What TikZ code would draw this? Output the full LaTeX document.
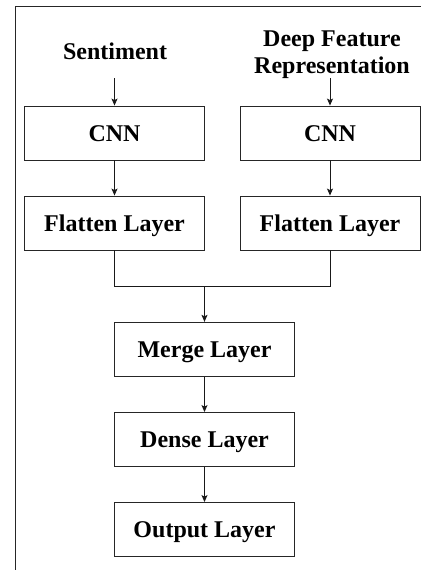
\documentclass[tikz,border=0pt]{standalone}
\usepackage{fontspec}
\setmainfont{Liberation Serif}
\usetikzlibrary{arrows.meta}
\begin{document}
\begin{tikzpicture}[x=1pt,y=-1pt,
  layerbox/.style={draw=black!85, line width=0.9pt, minimum width=180pt, minimum height=54pt,
    inner sep=0pt, text height=16pt, text depth=0pt, font=\bfseries\fontsize{24}{27}\selectfont},
  lbl/.style={inner sep=0pt, align=center, font=\bfseries\fontsize{24}{27}\selectfont},
  flow/.style={line width=0.9pt, draw=black!90, -{Stealth[length=7pt,width=6pt,inset=1.5pt]}},
  link/.style={line width=0.9pt, draw=black!90}]
\useasboundingbox (0,0) rectangle (421,570);
\fill[white] (0,0) rectangle (421,570);
% frame
\draw[line width=1pt, black!85] (15,570) -- (15,6) -- (421,6);
% labels
\node[lbl] (sent) at (115,51) {Sentiment};
\node[lbl] (deep) at (332,54.5) {Deep Feature\\Representation};
% boxes
\node[layerbox] (cnnl) at (114.5,133) {CNN};
\node[layerbox] (flatl) at (114.5,223) {Flatten Layer};
\node[layerbox] (cnnr) at (330,133) {CNN};
\node[layerbox] (flatr) at (330,223) {Flatten Layer};
\node[layerbox] (merge) at (204.5,349.3) {Merge Layer};
\node[layerbox] (dense) at (204.5,439.5) {Dense Layer};
\node[layerbox] (out) at (204.5,529.5) {Output Layer};
% connectors
\coordinate (sa) at (cnnl.north |- 0,78);
\coordinate (da) at (cnnr.north |- 0,78);
\draw[flow] (sa) -- (cnnl.north);
\draw[flow] (da) -- (cnnr.north);
\draw[flow] (cnnl) -- (flatl);
\draw[flow] (cnnr) -- (flatr);
\coordinate (j) at (merge.north |- 0,286.5);
\draw[link] (flatl.south) |- (j) -| (flatr.south);
\draw[flow] (j) -- (merge.north);
\draw[flow] (merge) -- (dense);
\draw[flow] (dense) -- (out);
\end{tikzpicture}
\end{document}
